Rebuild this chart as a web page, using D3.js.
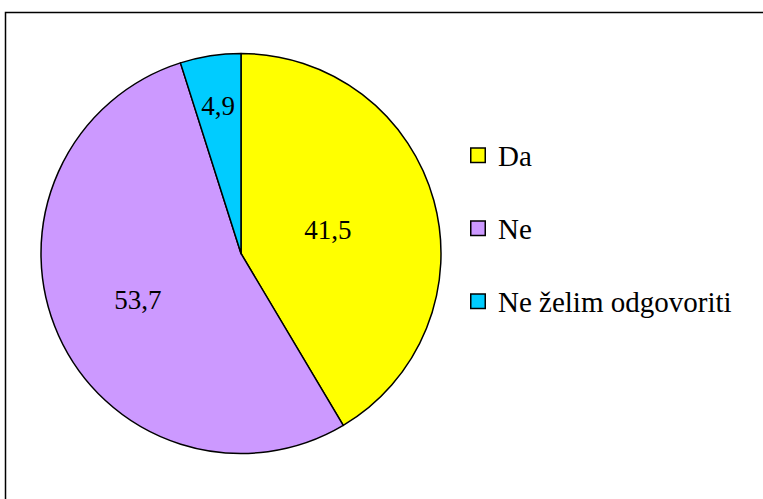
<!DOCTYPE html>
<html>
<head>
<meta charset="utf-8">
<script src="https://cdn.jsdelivr.net/npm/d3@7"></script>
</head>
<body style="margin:0">
<svg id="chart" width="763" height="499"></svg>
<script>
// answers and percentages
var categories = ["Da", "Ne", "Ne želim odgovoriti"];
var values = [41.5, 53.7, 4.9];
var labels = ["41,5", "53,7", "4,9"];
var colors = ["#FFFF00", "#CC99FF", "#00CCFF"];

var FONT = '"Liberation Serif", "Times New Roman", serif';

var svg = d3.select("#chart");

// outer frame (cut off at right and bottom like the original)
svg.append("rect")
    .attr("x", 5.5).attr("y", 12.5)
    .attr("width", 900).attr("height", 700)
    .attr("fill", "none")
    .attr("stroke", "#000")
    .attr("stroke-width", 1.5);

var cx = 241, cy = 253.5, r = 200;

var data = categories.map(function(c, i) {
    return {name: c, value: values[i], label: labels[i], color: colors[i]};
});

var pie = d3.pie().sort(null).value(function(d) { return d.value; });
var arc = d3.arc().innerRadius(0).outerRadius(r);

var g = svg.append("g").attr("transform", "translate(" + cx + "," + cy + ")");

var slices = pie(data);

g.selectAll("path")
    .data(slices)
    .enter().append("path")
    .attr("d", arc)
    .attr("fill", function(d) { return d.data.color; })
    .attr("stroke", "#000")
    .attr("stroke-width", 1.5)
    .attr("stroke-linejoin", "round");

// Excel "best fit" label distances, as fraction of radius
var labelFrac = [0.45, 0.565, 0.745];
slices.forEach(function(d, i) {
    var lr = r * labelFrac[i];
    var c = d3.arc().innerRadius(lr).outerRadius(lr).centroid(d);
    g.append("text")
        .attr("x", c[0])
        .attr("y", c[1] + 9)
        .attr("text-anchor", "middle")
        .style("font-family", FONT)
        .style("font-size", "27px")
        .text(d.data.label);
});

// legend
var ly = d3.scalePoint().domain(categories).range([166, 312]);

data.forEach(function(d) {
    var y = ly(d.name);
    svg.append("rect")
        .attr("x", 470.75).attr("y", y - 18)
        .attr("width", 14.5).attr("height", 14.5)
        .attr("fill", d.color)
        .attr("stroke", "#000")
        .attr("stroke-width", 1.5);
    svg.append("text")
        .attr("x", 498)
        .attr("y", y)
        .style("font-family", FONT)
        .style("font-size", "29px")
        .text(d.name);
});
</script>
</body>
</html>
